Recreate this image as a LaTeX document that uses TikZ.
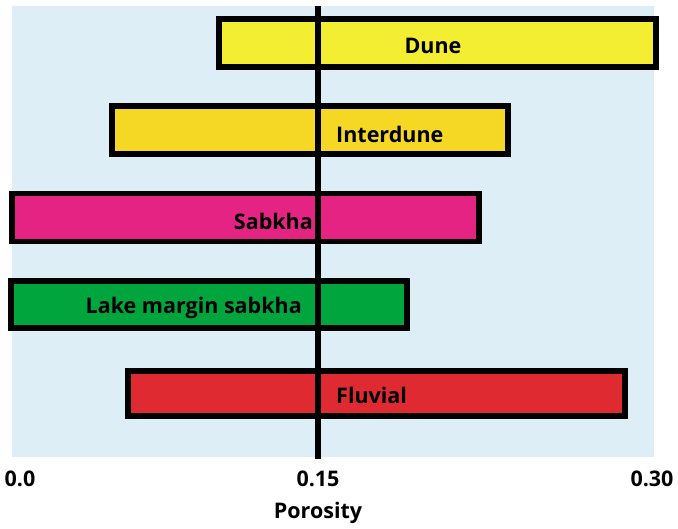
\documentclass[tikz,border=0pt]{standalone}
\usepackage{fontspec}
\setsansfont{Open Sans}
\usepackage{tikz}
\usetikzlibrary{positioning}
\definecolor{skyback}{HTML}{DDEEF6}
\definecolor{dunecol}{HTML}{F4EE32}
\definecolor{intercol}{HTML}{F5D824}
\definecolor{sabkhacol}{HTML}{E42382}
\definecolor{lakecol}{HTML}{00A53D}
\definecolor{fluvcol}{HTML}{E02A31}
\tikzstyle{bar} = [rectangle, draw, line width=5.5pt, inner sep=0pt, minimum height=48pt]
\tikzstyle{txt} = [font=\sffamily\bfseries\fontsize{21.5}{25}\selectfont, inner sep=0pt]

\begin{document}
\begin{tikzpicture}[x=1pt, y=-1pt]
  \useasboundingbox (0,0) rectangle (678,529);
  \fill [skyback] (12,6) rectangle (654,457);
  % bars
  \node [bar, fill=dunecol, minimum width=437pt](dune) at (437.5,43){};
  \node [bar, fill=intercol, minimum width=396pt](inter) at (310,130){};
  \node [bar, fill=sabkhacol, minimum width=467pt](sabkha) at (245.5,217.5){};
  \node [bar, fill=lakecol, minimum width=396pt, minimum height=47pt](lake) at (209,304.5){};
  \node [bar, fill=fluvcol, minimum width=497pt, minimum height=45pt](fluv) at (376.5,393.5){};
  % axis line
  \coordinate (axtop) at (318,6);
  \coordinate (axbot) at (318,459);
  \draw [line width=5.5pt] (axtop) -- (axbot);
  % labels
  \node [txt](dunetxt) at (433,46){Dune};
  \node [txt, anchor=west](intertxt) at (336,134){Interdune};
  \node [txt, anchor=east](sabkhatxt) at (313,221){Sabkha};
  \node [txt, anchor=east](laketxt) at (302,308){Lake margin sabkha};
  \node [txt, anchor=west](fluvtxt) at (336,395){Fluvial};
  % axis
  \node [txt](tick0) at (20,479){0.0};
  \node [txt](tick1) at (318,479){0.15};
  \node [txt](tick2) at (652,479){0.30};
  \node [txt, below = 15pt of tick1](poro){Porosity};
\end{tikzpicture}
\end{document}
